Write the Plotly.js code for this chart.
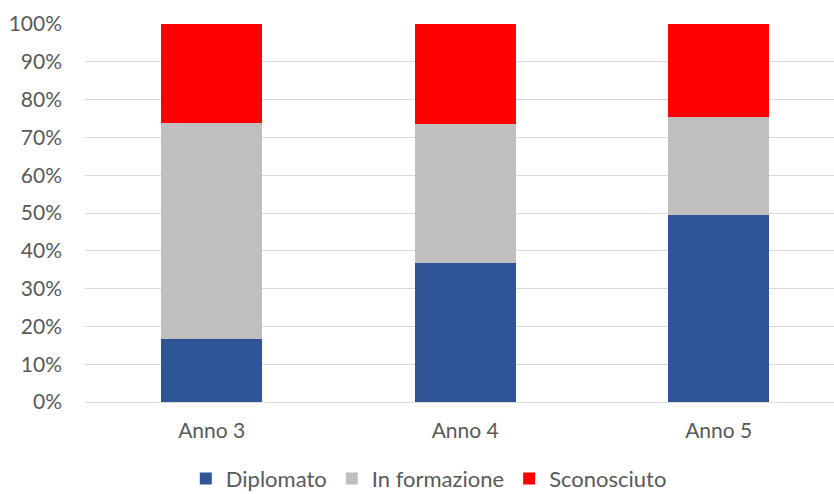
<!DOCTYPE html>
<html>
<head>
<meta charset="utf-8">
<script src="https://cdn.plot.ly/plotly-3.0.1.min.js"></script>
<style>html,body{margin:0;padding:0;background:#fff;}#chart{width:834px;height:494px;}</style>
</head>
<body>
<div id="chart"></div>
<script>
const categories = ["Anno 3", "Anno 4", "Anno 5"];
const diplomato = [0.166, 0.367, 0.495];
const inFormazione = [0.573, 0.368, 0.259];
const sconosciuto = [0.261, 0.265, 0.246];
const seriesNames = ["Diplomato", "In formazione", "Sconosciuto"];
const seriesColors = ["#2F5597", "#BFBFBF", "#FF0000"];
const yTickVals = [0, 0.1, 0.2, 0.3, 0.4, 0.5, 0.6, 0.7, 0.8, 0.9, 1.0];
const yTickText = ["0%", "10%", "20%", "30%", "40%", "50%", "60%", "70%", "80%", "90%", "100%"];

const values = [diplomato, inFormazione, sconosciuto];
const traces = values.map((v, i) => ({
  type: "bar",
  x: categories,
  y: v,
  name: seriesNames[i],
  width: 0.4,
  marker: {color: seriesColors[i], line: {width: 0}},
  hoverinfo: "x+y+name"
}));

const font = {family: "Lato, 'Open Sans', sans-serif", size: 21, color: "#595959"};

const layout = {
  width: 834, height: 494,
  barmode: "stack",
  margin: {l: 85, r: 0, t: 24, b: 92, autoexpand: false},
  paper_bgcolor: "#fff", plot_bgcolor: "#fff",
  font: font,
  xaxis: {
    type: "category",
    range: [-0.5, 2.455],
    showgrid: false, zeroline: false, showline: false, automargin: false,
    ticks: "", tickfont: font, ticklabelstandoff: 14
  },
  yaxis: {
    range: [0, 1],
    tickvals: yTickVals, ticktext: yTickText, automargin: false,
    showgrid: true, gridcolor: "#D9D9D9", gridwidth: 1,
    zeroline: true, zerolinecolor: "#D9D9D9", zerolinewidth: 1,
    showline: false, ticks: "", tickfont: font, ticklabelstandoff: 22
  },
  showlegend: true,
  legend: {
    orientation: "h", x: 0.459, xanchor: "center", xref: "paper",
    y: -0.203, yanchor: "middle",
    font: {family: "Lato, 'Open Sans', sans-serif", size: 22, color: "#595959"},
    itemwidth: 30, traceorder: "normal",
    itemsizing: "constant", tracegroupgap: 0
  },
  bargap: 0.6
};

Plotly.newPlot("chart", traces, layout, {displayModeBar: false, staticPlot: true});
</script>
</body>
</html>
